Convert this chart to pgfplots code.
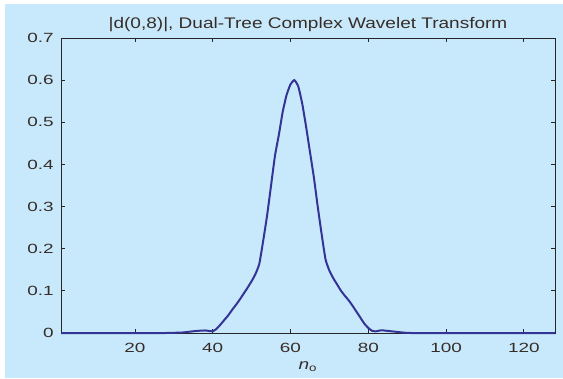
\documentclass[border=0pt]{standalone}
\usepackage{graphicx}
\usepackage{pgfplots}
\pgfplotsset{compat=1.18}
\usepackage{fontspec}
\setmainfont{Liberation Sans}
\definecolor{bgblue}{RGB}{200,233,251}
\definecolor{lineblue}{RGB}{52,52,150}
\definecolor{txt}{RGB}{55,45,40}
\newcommand\hs[1]{\scalebox{1.42}[1]{#1}}
\begin{document}
\begin{tikzpicture}
\fill[white] (0pt,0pt) rectangle (422.25pt,283.5pt);
\fill[bgblue] (3.75pt,0pt) rectangle (422.25pt,280.5pt);
\begin{axis}[
  at={(45.75pt,33.75pt)}, anchor=south west,
  scale only axis, width=370.5pt, height=221.25pt,
  xmin=1, xmax=128, ymin=0, ymax=0.7,
  xtick={20,40,60,80,100,120},
  xticklabels={\hs{20},\hs{40},\hs{60},\hs{80},\hs{100},\hs{120}},
  ytick={0,0.1,0.2,0.3,0.4,0.5,0.6,0.7},
  yticklabels={\hs{0},\hs{0.1},\hs{0.2},\hs{0.3},\hs{0.4},\hs{0.5},\hs{0.6},\hs{0.7}},
  tick align=inside, major tick length=3pt,
  axis line style={black!85, line width=0.6pt},
  tick style={black!85, line width=0.6pt},
  ticklabel style={font=\fontsize{10}{12}\selectfont, text=txt},
  xticklabel style={yshift=-4pt},
  yticklabel style={xshift=-2pt},
  /pgf/number format/assume math mode=true,
  title={\scalebox{1.24}[1]{|d(0,8)|, Dual-Tree Complex Wavelet Transform}},
  title style={font=\fontsize{11.5}{13}\selectfont, text=txt, yshift=-4.5pt},
  xlabel={\scalebox{1.3}[1]{\textit{n}\textsubscript{o}}},
  xlabel style={font=\fontsize{11}{13}\selectfont, text=txt},
  clip=false,
]
\addplot[lineblue, line width=1.5pt, smooth, tension=0.3] coordinates {
(1,0) (10,0) (20,0) (28,0) (30,0.0005) (32,0.001) (34,0.003) (36,0.005) (38,0.006) (39,0.005) (40,0.004)
(41,0.01) (42,0.02) (43,0.031) (44,0.042) (45,0.055) (46,0.067) (47,0.08) (48,0.094)
(49,0.108) (50,0.123) (51,0.14) (52,0.165) (53,0.22) (54,0.28) (55,0.35) (56,0.42)
(57,0.47) (58,0.525) (59,0.565) (60,0.59) (61,0.6) (62,0.585) (63,0.545) (64,0.49)
(65,0.43) (66,0.37) (67,0.30) (68,0.235) (69,0.175) (70,0.148) (71,0.13) (72,0.115)
(73,0.10) (74,0.088) (75,0.077) (76,0.064) (77,0.05) (78,0.036) (79,0.022) (80,0.012)
(81,0.005) (82,0.004) (83,0.006) (84,0.006) (85,0.005) (87,0.003) (89,0.001) (91,0)
(100,0) (110,0) (120,0) (128,0)
};
\end{axis}
\end{tikzpicture}
\end{document}
